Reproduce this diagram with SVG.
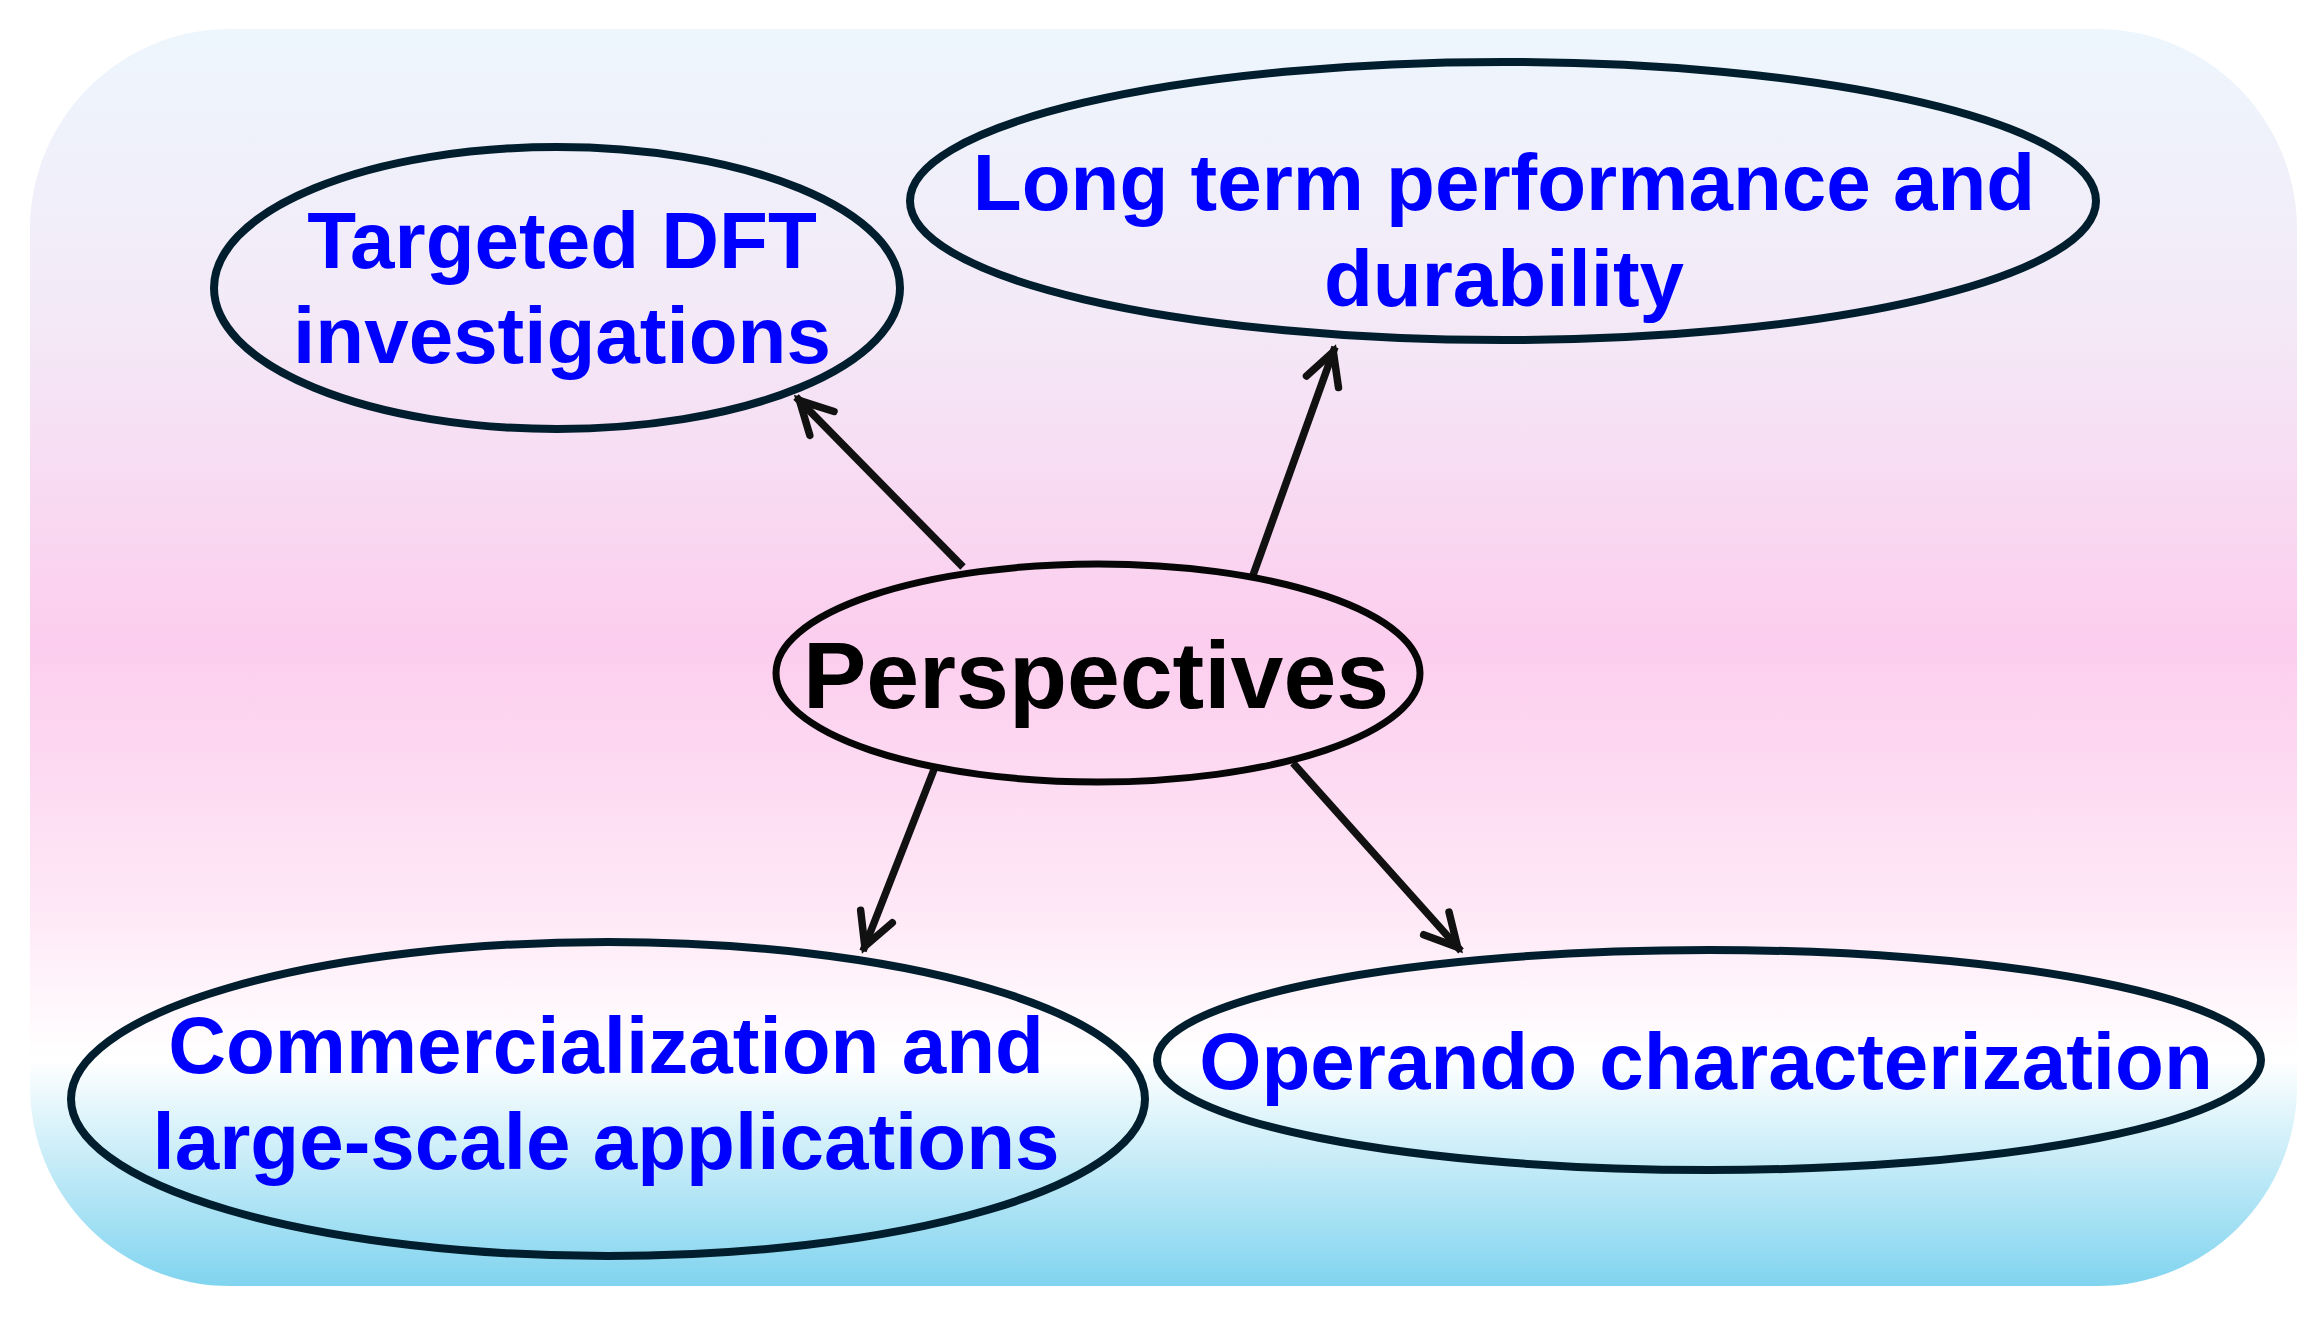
<svg xmlns="http://www.w3.org/2000/svg" width="2317" height="1317" viewBox="0 0 2317 1317">
  <style>
    .node { fill: none; stroke: #001E2D; stroke-width: 8; }
    .center { fill: none; stroke: #060606; stroke-width: 7; }
    .lbl { font-family: "Liberation Sans", Arial, sans-serif; font-weight: bold; font-size: 80px; fill: #0000FF; text-anchor: middle; }
    .main { font-family: "Liberation Sans", Arial, sans-serif; font-weight: bold; font-size: 95px; fill: #000000; text-anchor: middle; }
    .conn { stroke: #111111; stroke-width: 7.5; fill: none; marker-end: url(#ah); }
  </style>
  <defs>
    <linearGradient id="bg" x1="0" y1="0" x2="0" y2="1">
      <stop offset="0" stop-color="#EDF6FD"/>
      <stop offset="0.22" stop-color="#F3EAF7"/>
      <stop offset="0.49" stop-color="#FCCDEE"/>
      <stop offset="0.70" stop-color="#FEE8F6"/>
      <stop offset="0.82" stop-color="#FFFFFF"/>
      <stop offset="1" stop-color="#80D4EF"/>
    </linearGradient>
    <marker id="ah" markerUnits="userSpaceOnUse" orient="auto" overflow="visible" markerWidth="1" markerHeight="1" refX="0" refY="0">
      <path d="M-37,-17 L-5,0 L-37,17" fill="none" stroke="#111111" stroke-width="7.5" stroke-linejoin="miter" stroke-linecap="round"/>
    </marker>
  </defs>

  <rect id="background" x="30" y="29" width="2267" height="1257" rx="200" ry="200" fill="url(#bg)"/>

  <g id="connectors">
    <line class="conn" x1="963" y1="567" x2="796" y2="397"/>
    <line class="conn" x1="1252" y1="578" x2="1335" y2="347"/>
    <line class="conn" x1="935" y1="767" x2="863" y2="951"/>
    <line class="conn" x1="1293" y1="763" x2="1461" y2="951"/>
  </g>

  <g id="node-dft">
    <ellipse class="node" cx="557" cy="288" rx="343" ry="141"/>
    <text class="lbl" x="562" y="268">Targeted DFT</text>
    <text class="lbl" x="562" y="363">investigations</text>
  </g>

  <g id="node-longterm">
    <ellipse class="node" cx="1503" cy="201" rx="593" ry="139"/>
    <text class="lbl" x="1504" y="210">Long term performance and</text>
    <text class="lbl" x="1504" y="306">durability</text>
  </g>

  <g id="node-perspectives">
    <ellipse class="center" cx="1098" cy="673" rx="322" ry="109"/>
    <text class="main" x="1096" y="708">Perspectives</text>
  </g>

  <g id="node-commercialization">
    <ellipse class="node" cx="608" cy="1099" rx="537" ry="157"/>
    <text class="lbl" x="606" y="1073">Commercialization and</text>
    <text class="lbl" x="606" y="1169">large-scale applications</text>
  </g>

  <g id="node-operando">
    <ellipse class="node" cx="1709" cy="1060" rx="552" ry="110"/>
    <text class="lbl" x="1706" y="1089">Operando characterization</text>
  </g>
</svg>
